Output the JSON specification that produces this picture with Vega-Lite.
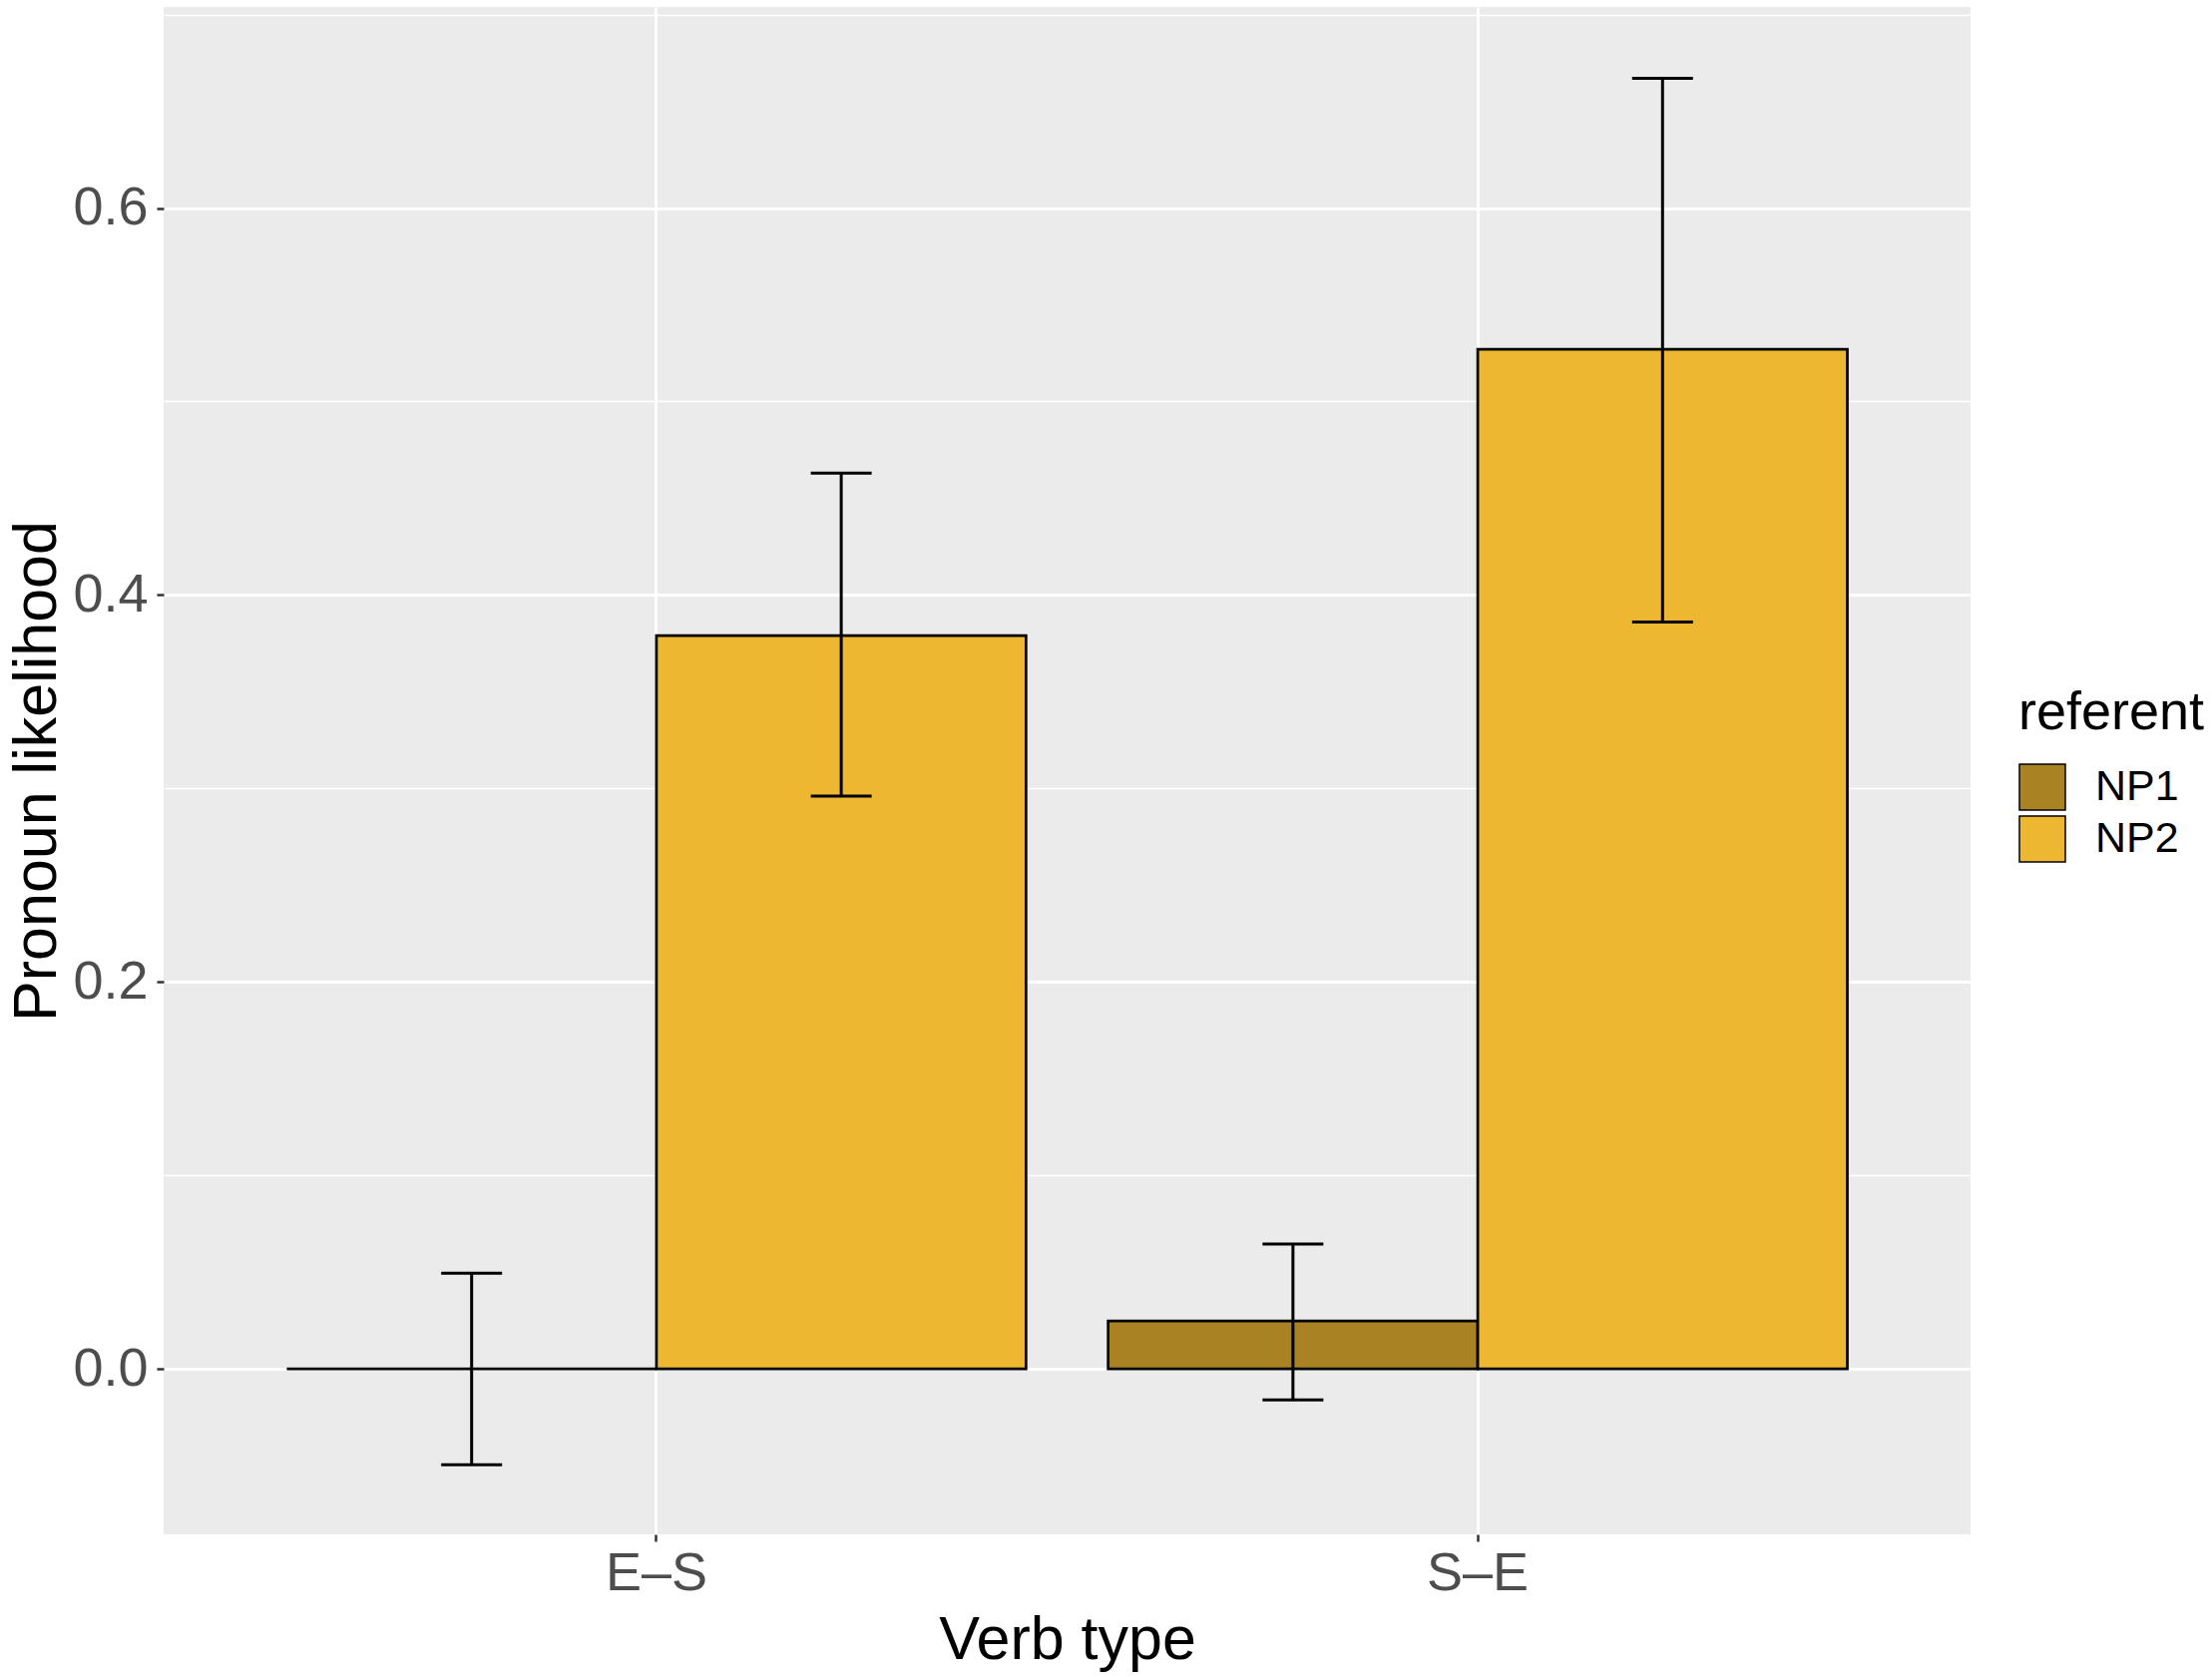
{
  "$schema": "https://vega.github.io/schema/vega-lite/v6.json",
  "autosize": {"type": "none"},
  "padding": {"left": 164, "top": 7, "right": 242, "bottom": 143},
  "width": 1811,
  "height": 1531,
  "background": "white",
  "config": {
    "font": "Liberation Sans",
    "view": {"fill": "#EBEBEB", "stroke": null},
    "axis": {
      "domain": false,
      "tickColor": "#333333",
      "tickSize": 7,
      "tickWidth": 2.5,
      "labelColor": "#4D4D4D",
      "labelFontSize": 54,
      "labelFont": "Liberation Sans",
      "titleFont": "Liberation Sans",
      "titleFontSize": 61,
      "titleFontWeight": "normal",
      "titleColor": "black",
      "gridColor": "white"
    },
    "legend": {
      "titleFont": "Liberation Sans",
      "labelFont": "Liberation Sans"
    }
  },
  "data": {
    "values": [
      {"verb": "E–S", "referent": "NP1", "mean": 0.0, "lo": -0.0495, "hi": 0.0495},
      {"verb": "E–S", "referent": "NP2", "mean": 0.379, "lo": 0.296, "hi": 0.463},
      {"verb": "S–E", "referent": "NP1", "mean": 0.0248, "lo": -0.016, "hi": 0.0645},
      {"verb": "S–E", "referent": "NP2", "mean": 0.527, "lo": 0.386, "hi": 0.667}
    ]
  },
  "encoding": {
    "x": {
      "field": "verb",
      "type": "nominal",
      "title": "Verb type",
      "sort": ["E–S", "S–E"],
      "scale": {"domain": ["E–S", "S–E"], "paddingInner": 0.1, "paddingOuter": 0.15},
      "axis": {
        "labelAngle": 0,
        "grid": true,
        "gridWidth": 2.8,
        "labelPadding": 5,
        "titlePadding": 10
      }
    },
    "xOffset": {
      "field": "referent",
      "type": "nominal",
      "scale": {"domain": ["NP1", "NP2"], "paddingInner": 0, "paddingOuter": 0}
    }
  },
  "layer": [
    {
      "mark": {"type": "bar", "stroke": "black", "strokeWidth": 2.7},
      "encoding": {
        "y": {
          "field": "mean",
          "type": "quantitative",
          "title": "Pronoun likelihood",
          "scale": {"domain": [-0.0855, 0.7039], "nice": false, "zero": false},
          "axis": {
            "values": [0, 0.1, 0.2, 0.3, 0.4, 0.5, 0.6, 0.7],
            "labelExpr": "round(datum.value*10) % 2 === 0 ? format(datum.value, '.1f') : ''",
            "grid": true,
            "gridWidth": {"condition": {"test": "round(datum.value*10) % 2 === 0", "value": 2.8}, "value": 1.4},
            "tickOpacity": {"condition": {"test": "round(datum.value*10) % 2 === 0", "value": 1}, "value": 0},
            "labelPadding": 9,
            "titlePadding": 4
          }
        },
        "color": {
          "field": "referent",
          "type": "nominal",
          "scale": {"domain": ["NP1", "NP2"], "range": ["#A98323", "#EDB731"]},
          "legend": {
            "title": "referent",
            "orient": "none",
            "legendX": 1859,
            "legendY": 681,
            "titleFontSize": 54,
            "titleFontWeight": "normal",
            "titleColor": "black",
            "titleLimit": 400,
            "titlePadding": 23,
            "labelFontSize": 43,
            "labelColor": "black",
            "labelOffset": 29,
            "labelLimit": 300,
            "symbolType": "square",
            "symbolSize": 2116,
            "symbolStrokeColor": "black",
            "symbolStrokeWidth": 1.5,
            "symbolOpacity": 1,
            "rowPadding": 0,
            "padding": 0
          }
        }
      }
    },
    {
      "mark": {"type": "rule", "color": "black", "strokeWidth": 3},
      "encoding": {
        "y": {"field": "lo", "type": "quantitative"},
        "y2": {"field": "hi"}
      }
    },
    {
      "mark": {"type": "tick", "color": "black", "thickness": 3, "size": 61, "opacity": 1},
      "encoding": {
        "y": {"field": "lo", "type": "quantitative"}
      }
    },
    {
      "mark": {"type": "tick", "color": "black", "thickness": 3, "size": 61, "opacity": 1},
      "encoding": {
        "y": {"field": "hi", "type": "quantitative"}
      }
    }
  ]
}
